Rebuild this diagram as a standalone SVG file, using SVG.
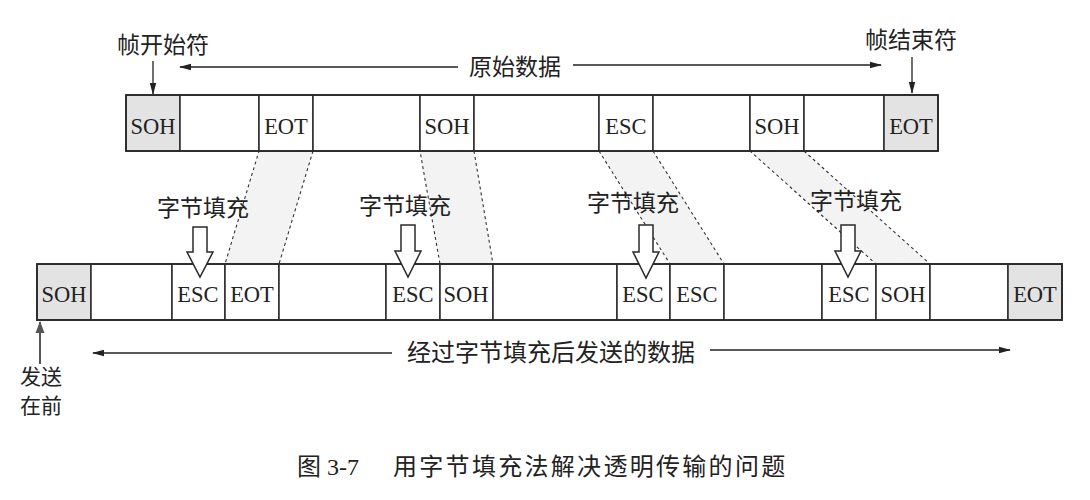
<svg xmlns="http://www.w3.org/2000/svg" width="1090" height="500" viewBox="0 0 1090 500">
<style>
.cell{fill:#fff;stroke:#2a2a2a;stroke-width:1.5}
.sh{fill:#e3e3e3}
.lbl{font-family:"Liberation Serif","Times New Roman",serif;font-size:22.5px;fill:#222;text-anchor:middle}
.cjk{font-family:"Liberation Serif","Noto Sans CJK SC",sans-serif;font-size:23px;fill:#222;text-anchor:middle}
.cap{font-family:"Liberation Serif","Noto Sans CJK SC",sans-serif;font-size:24px;fill:#222}
.ln{stroke:#222;stroke-width:1.3;fill:none}
.dash{stroke:#333;stroke-width:1.1;stroke-dasharray:3 3;fill:#f3f3f3}
.hollow{fill:#fff;stroke:#2a2a2a;stroke-width:1.5}
.frame{fill:none;stroke:#2a2a2a;stroke-width:1.8}
</style>
<defs>
<marker id="ah" markerUnits="userSpaceOnUse" markerWidth="12" markerHeight="8" refX="11" refY="4" orient="auto">
<path d="M0,0.8 L12,4 L0,7.2 Z" fill="#222"/>
</marker>
<marker id="ahg" markerUnits="userSpaceOnUse" markerWidth="12" markerHeight="10" refX="11" refY="5" orient="auto">
<path d="M0,0.5 L12,5 L0,9.5 Z" fill="#555"/>
</marker>
</defs>
<rect width="1090" height="500" fill="#fff"/>

<g id="connectors">
<polygon class="dash" points="259,151 313,151 279,264 225,264"/>
<polygon class="dash" points="420,151 474,151 493,264 440,264"/>
<polygon class="dash" points="599,151 653,151 724,264 670,264"/>
<polygon class="dash" points="750,151 804,151 930,264 876,264"/>
<line class="ln" x1="153" y1="61" x2="153" y2="94" marker-end="url(#ah)"/>
<line class="ln" x1="912" y1="57" x2="912" y2="93" marker-end="url(#ah)"/>
<line class="ln" x1="458" y1="67" x2="180" y2="67" marker-end="url(#ah)"/>
<line class="ln" x1="573" y1="65" x2="881" y2="65" marker-end="url(#ah)"/>
<line class="ln" x1="392" y1="353" x2="93" y2="353" marker-end="url(#ah)"/>
<line class="ln" x1="710" y1="350" x2="1010" y2="350" marker-end="url(#ah)"/>
<line x1="40" y1="364" x2="40" y2="322" stroke="#555" stroke-width="2" marker-end="url(#ahg)"/>
</g>

<g id="labels">
<text class="cjk" x="163" y="53">帧开始符</text>
<text class="cjk" x="911" y="48">帧结束符</text>
<text class="cjk" x="515" y="75">原始数据</text>
<text class="cjk" x="551" y="361" style="font-size:24px">经过字节填充后发送的数据</text>
<text class="cjk" x="41" y="384" style="font-size:21px">发送</text>
<text class="cjk" x="41" y="413" style="font-size:21px">在前</text>
<text class="cap" x="297" y="475">图 3-7</text>
<text class="cap" x="393" y="475" letter-spacing="2.3">用字节填充法解决透明传输的问题</text>
</g>

<g id="top-row">
<g id="t-soh1"><rect class="cell sh" x="126" y="95" width="54" height="56"/><text class="lbl" x="153" y="134">SOH</text></g>
<g id="t-d1"><rect class="cell" x="180" y="95" width="79" height="56"/></g>
<g id="t-eot1"><rect class="cell" x="259" y="95" width="54" height="56"/><text class="lbl" x="286" y="134">EOT</text></g>
<g id="t-d2"><rect class="cell" x="313" y="95" width="107" height="56"/></g>
<g id="t-soh2"><rect class="cell" x="420" y="95" width="54" height="56"/><text class="lbl" x="447" y="134">SOH</text></g>
<g id="t-d3"><rect class="cell" x="474" y="95" width="125" height="56"/></g>
<g id="t-esc"><rect class="cell" x="599" y="95" width="54" height="56"/><text class="lbl" x="626" y="134">ESC</text></g>
<g id="t-d4"><rect class="cell" x="653" y="95" width="97" height="56"/></g>
<g id="t-soh3"><rect class="cell" x="750" y="95" width="54" height="56"/><text class="lbl" x="777" y="134">SOH</text></g>
<g id="t-d5"><rect class="cell" x="804" y="95" width="80" height="56"/></g>
<g id="t-eot2"><rect class="cell sh" x="884" y="95" width="54" height="56"/><text class="lbl" x="911" y="134">EOT</text></g>
<rect class="frame" x="126" y="95" width="812" height="56"/>
</g>

<g id="bottom-row">
<g id="b-soh1"><rect class="cell sh" x="37" y="264" width="54" height="56"/><text class="lbl" x="64" y="302">SOH</text></g>
<g id="b-d1"><rect class="cell" x="91" y="264" width="81" height="56"/></g>
<g id="b-esc1"><rect class="cell" x="172" y="264" width="53" height="56"/><text class="lbl" x="198" y="302">ESC</text></g>
<g id="b-eot1"><rect class="cell" x="225" y="264" width="54" height="56"/><text class="lbl" x="252" y="302">EOT</text></g>
<g id="b-d2"><rect class="cell" x="279" y="264" width="107" height="56"/></g>
<g id="b-esc2"><rect class="cell" x="386" y="264" width="54" height="56"/><text class="lbl" x="413" y="302">ESC</text></g>
<g id="b-soh2"><rect class="cell" x="440" y="264" width="53" height="56"/><text class="lbl" x="466" y="302">SOH</text></g>
<g id="b-d3"><rect class="cell" x="493" y="264" width="124" height="56"/></g>
<g id="b-esc3"><rect class="cell" x="617" y="264" width="53" height="56"/><text class="lbl" x="643" y="302">ESC</text></g>
<g id="b-esc4"><rect class="cell" x="670" y="264" width="54" height="56"/><text class="lbl" x="697" y="302">ESC</text></g>
<g id="b-d4"><rect class="cell" x="724" y="264" width="98" height="56"/></g>
<g id="b-esc5"><rect class="cell" x="822" y="264" width="54" height="56"/><text class="lbl" x="849" y="302">ESC</text></g>
<g id="b-soh3"><rect class="cell" x="876" y="264" width="54" height="56"/><text class="lbl" x="903" y="302">SOH</text></g>
<g id="b-d5"><rect class="cell" x="930" y="264" width="78" height="56"/></g>
<g id="b-eot2"><rect class="cell sh" x="1008" y="264" width="54" height="56"/><text class="lbl" x="1035" y="302">EOT</text></g>
<rect class="frame" x="37" y="264" width="1025" height="56"/>
</g>

<g id="stuff1"><text class="cjk" x="203" y="216">字节填充</text><path class="hollow" d="M193,227 L207,227 L207,252 L213,252 L200,277 L187,252 L193,252 Z"/></g>
<g id="stuff2"><text class="cjk" x="405" y="214">字节填充</text><path class="hollow" d="M401,225 L415,225 L415,251 L421,251 L408,277 L395,251 L401,251 Z"/></g>
<g id="stuff3"><text class="cjk" x="633" y="211">字节填充</text><path class="hollow" d="M639,225 L653,225 L653,252 L659,252 L646,278 L633,252 L639,252 Z"/></g>
<g id="stuff4"><text class="cjk" x="856" y="209">字节填充</text><path class="hollow" d="M841,225 L855,225 L855,251 L861,251 L848,277 L835,251 L841,251 Z"/></g>
</svg>
